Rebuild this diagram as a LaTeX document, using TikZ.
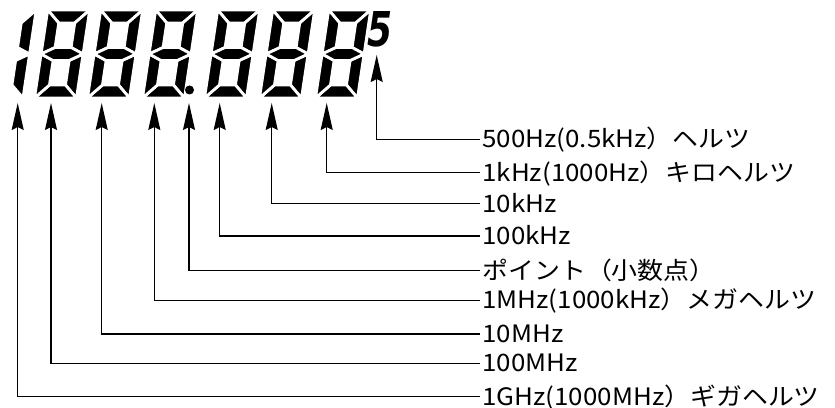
\documentclass[tikz,border=0pt]{standalone}
\usepackage{fontspec}
\newfontfamily\jpfont{Noto Sans CJK JP}
\newfontfamily\segfont{DejaVu Sans}
\usetikzlibrary{arrows.meta}

\begin{document}
\begin{tikzpicture}[x=1pt,y=1pt,
    seg/.style={fill=black,draw=white,line width=2.8pt},
    arr/.style={-{Stealth[length=27pt,width=12pt,inset=3pt]},line width=1.4pt},
    lbl/.style={anchor=west,inner xsep=2pt,inner ysep=0pt,text height=17pt,text depth=0pt,
      xscale=1.08,font=\jpfont\fontsize{24}{24}\selectfont}]
        \def\dw{42}
        \def\dh{88}
        \def\dm{44}
        \def\sw{13}

        \useasboundingbox (0,0) rectangle (835,407);

        %------------------
        % 表示部（7セグメント）
        %------------------

        % 先頭の「1」
        \begin{scope}[shift={(-19,309)},xslant=0.15]
          \fill[seg] (\dw,\dh) -- (\dw,\dm) -- (\dw-\sw,\dm+\sw/2) -- (\dw-\sw,\dh-\sw) -- cycle;
          \fill[seg] (\dw,0) -- (\dw,\dm) -- (\dw-\sw,\dm-\sw/2) -- (\dw-\sw,\sw) -- cycle;
        \end{scope}

        % 「8」の桁
        \foreach \px in {34.5,87.5,142.5,204.5,259.5,315.5}{
          \begin{scope}[shift={(\px,309)},xslant=0.15]
            \fill[seg] (0,\dh) -- (\dw,\dh) -- (\dw-\sw,\dh-\sw) -- (\sw,\dh-\sw) -- cycle;
            \fill[seg] (\dw,\dh) -- (\dw,\dm) -- (\dw-\sw,\dm+\sw/2) -- (\dw-\sw,\dh-\sw) -- cycle;
            \fill[seg] (\dw,0) -- (\dw,\dm) -- (\dw-\sw,\dm-\sw/2) -- (\dw-\sw,\sw) -- cycle;
            \fill[seg] (0,0) -- (\dw,0) -- (\dw-\sw,\sw) -- (\sw,\sw) -- cycle;
            \fill[seg] (0,0) -- (0,\dm) -- (\sw,\dm-\sw/2) -- (\sw,\sw) -- cycle;
            \fill[seg] (0,\dh) -- (0,\dm) -- (\sw,\dm+\sw/2) -- (\sw,\dh-\sw) -- cycle;
            \fill[seg] (0,\dm) -- (\sw,\dm+\sw/2) -- (\dw-\sw,\dm+\sw/2) -- (\dw,\dm)
              -- (\dw-\sw,\dm-\sw/2) -- (\sw,\dm-\sw/2) -- cycle;
          \end{scope}
        }

        % 小数点
        \fill (189.5,317) circle (4.5);

        % 小さい「5」
        \node[font=\segfont\bfseries\itshape\fontsize{48}{48}\selectfont,xscale=0.75,inner sep=0pt]
          (n5) at (380,377.5) {5};

        %------------------
        % 矢印の先
        %------------------

        \coordinate (p5)    at (376.7,352);
        \coordinate (p1k)   at (326.7,304);
        \coordinate (p10k)  at (271.7,304);
        \coordinate (p100k) at (219.7,304);
        \coordinate (ppt)   at (189,304);
        \coordinate (p1M)   at (154.3,304);
        \coordinate (p10M)  at (101.7,304);
        \coordinate (p100M) at (51,304);
        \coordinate (p1G)   at (17.7,304);

        %------------------
        % ラベル
        %------------------

        \node[lbl] (l5)    at (480,267.7) {500Hz(0.5kHz）ヘルツ};
        \node[lbl] (l1k)   at (480,234.3) {1kHz(1000Hz）キロヘルツ};
        \node[lbl] (l10k)  at (480,203.3) {10kHz};
        \node[lbl] (l100k) at (480,171)   {100kHz};
        \node[lbl] (lpt)   at (480,136.3) {ポイント（小数点）};
        \node[lbl] (l1M)   at (480,106.7) {1MHz(1000kHz）メガヘルツ};
        \node[lbl] (l10M)  at (480,73)    {10MHz};
        \node[lbl] (l100M) at (480,43.7)  {100MHz};
        \node[lbl] (l1G)   at (480,10.3)  {1GHz(1000MHz）ギガヘルツ};

        % 引き出し線
        \draw[arr] (l5.west) -| (p5);
        \draw[arr] (l1k.west) -| (p1k);
        \draw[arr] (l10k.west) -| (p10k);
        \draw[arr] (l100k.west) -| (p100k);
        \draw[arr] (lpt.west) -| (ppt);
        \draw[arr] (l1M.west) -| (p1M);
        \draw[arr] (l10M.west) -| (p10M);
        \draw[arr] (l100M.west) -| (p100M);
        \draw[arr] (l1G.west) -| (p1G);
      \end{tikzpicture}
\end{document}
